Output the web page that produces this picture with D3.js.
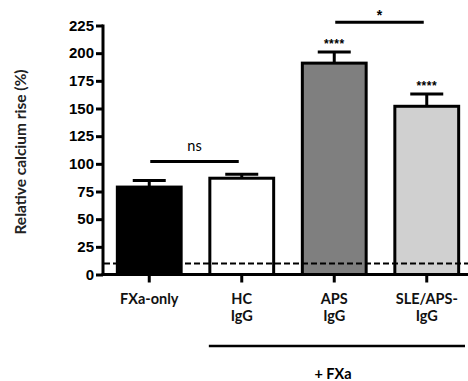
<!DOCTYPE html>
<html><head><meta charset="utf-8">
<script src="https://cdn.jsdelivr.net/npm/d3@7"></script>
<style>body{margin:0;background:#fff}</style>
</head><body>
<svg id="c" width="468" height="381"></svg>
<script>
const categories = ["FXa-only", "HC|IgG", "APS|IgG", "SLE/APS-|IgG"];
const means = [79, 87, 191, 152];
const errors = [6, 3.5, 10, 11];
const fills = ["#000000", "#ffffff", "#7f7f7f", "#d0d0d0"];
const sigLabels = ["", "", "****", "****"];
const yTicks = [0, 25, 50, 75, 100, 125, 150, 175, 200, 225];
const baselineValue = 10;
const brackets = [{from: 0, to: 1, y: 102, label: "ns"}, {from: 2, to: 3, y: 228, label: "*"}];

const svg = d3.select("#c");
const y = d3.scaleLinear().domain([0, 225]).range([274.5, 25.5]);
const x = d3.scaleBand().domain(categories).range([103, 473]).paddingInner(0.31).paddingOuter(0.155);

// y axis
const yAxis = svg.append("g").attr("transform", "translate(103,0)")
  .call(d3.axisLeft(y).tickValues(yTicks).tickSize(7).tickSizeOuter(0).tickPadding(2));
yAxis.select(".domain").attr("stroke-width", 3).attr("d", `M0,${y(225)-1}V${y(0)+1.5}`);
yAxis.selectAll(".tick line").attr("stroke-width", 3);
yAxis.selectAll(".tick text").attr("font-family", "Liberation Sans, Arial, sans-serif")
  .attr("font-weight", "bold").attr("font-size", 15).attr("fill", "#000");

// bars
svg.append("g").selectAll("rect").data(categories).join("rect")
  .attr("x", d => x(d))
  .attr("y", (d, i) => y(means[i]))
  .attr("width", x.bandwidth())
  .attr("height", (d, i) => y(0) - y(means[i]))
  .attr("fill", (d, i) => fills[i])
  .attr("stroke", "#000").attr("stroke-width", 3);

// error bars
const eg = svg.append("g").attr("stroke", "#000").attr("stroke-width", 3);
categories.forEach((c, i) => {
  const cx = x(c) + x.bandwidth() / 2;
  eg.append("line").attr("x1", cx).attr("x2", cx).attr("y1", y(means[i])).attr("y2", y(means[i] + errors[i]));
  eg.append("line").attr("x1", cx - 16.5).attr("x2", cx + 16.5).attr("y1", y(means[i] + errors[i])).attr("y2", y(means[i] + errors[i]));
  if (sigLabels[i]) {
    svg.append("text").attr("x", cx).attr("y", y(means[i] + errors[i]) - 4)
      .attr("text-anchor", "middle").attr("font-family", "Liberation Sans, Arial, sans-serif")
      .attr("font-weight", "bold").attr("font-size", 12).attr("letter-spacing", 0.5).text(sigLabels[i]);
  }
});

// x axis
const xAxis = svg.append("g").attr("transform", `translate(0,${y(0)})`)
  .call(d3.axisBottom(x).tickSize(8).tickSizeOuter(0).tickFormat(""));
xAxis.select(".domain").attr("stroke-width", 3).attr("d", "M101.5,0H468");
xAxis.selectAll(".tick line").attr("stroke-width", 3);

// dashed baseline
svg.append("line").attr("x1", 104).attr("x2", 468).attr("y1", y(baselineValue)).attr("y2", y(baselineValue))
  .attr("stroke", "#000").attr("stroke-width", 2).attr("stroke-dasharray", "6,3");

// category labels
const lab = svg.append("g").attr("font-family", "Lato, Open Sans, sans-serif").attr("font-weight", "bold")
  .attr("font-size", 14.5).attr("text-anchor", "middle").attr("fill", "#111");
categories.forEach(c => {
  const parts = c.split("|");
  const t = lab.append("text").attr("x", x(c) + x.bandwidth() / 2).attr("y", 304);
  parts.forEach((p, j) => t.append("tspan").attr("x", x(c) + x.bandwidth() / 2).attr("dy", j ? 17 : 0).text(p));
});

// brackets
brackets.forEach(b => {
  const x1 = x(categories[b.from]) + x.bandwidth() / 2 + 1;
  const x2 = x(categories[b.to]) + x.bandwidth() / 2 - 3;
  svg.append("line").attr("x1", x1).attr("x2", x2).attr("y1", y(b.y)).attr("y2", y(b.y))
    .attr("stroke", "#000").attr("stroke-width", 3);
  if (b.label === "ns") {
    svg.append("text").attr("x", (x1 + x2) / 2).attr("y", y(b.y) - 11).attr("text-anchor", "middle")
      .attr("font-family", "Lato, Open Sans, sans-serif").attr("font-size", 14.5).text(b.label);
  } else {
    svg.append("text").attr("x", (x1 + x2) / 2).attr("y", y(b.y) - 2).attr("text-anchor", "middle")
      .attr("font-family", "Liberation Sans, Arial, sans-serif").attr("font-weight", "bold").attr("font-size", 14).text(b.label);
  }
});

// + FXa group line
const gx1 = x(categories[1]) - 1, gx2 = 465;
svg.append("line").attr("x1", gx1).attr("x2", gx2).attr("y1", 346).attr("y2", 346)
  .attr("stroke", "#000").attr("stroke-width", 2.5);
svg.append("text").attr("x", 333).attr("y", 379).attr("text-anchor", "middle")
  .attr("font-family", "Lato, Open Sans, sans-serif").attr("font-weight", "bold").attr("font-size", 14.5).text("+ FXa");

// y title
svg.append("text").attr("transform", "translate(26,152) rotate(-90)").attr("text-anchor", "middle")
  .attr("font-family", "Lato, Open Sans, sans-serif").attr("font-weight", "bold").attr("font-size", 15.5)
  .attr("fill", "#222").text("Relative calcium rise (%)");
</script>
</body></html>
